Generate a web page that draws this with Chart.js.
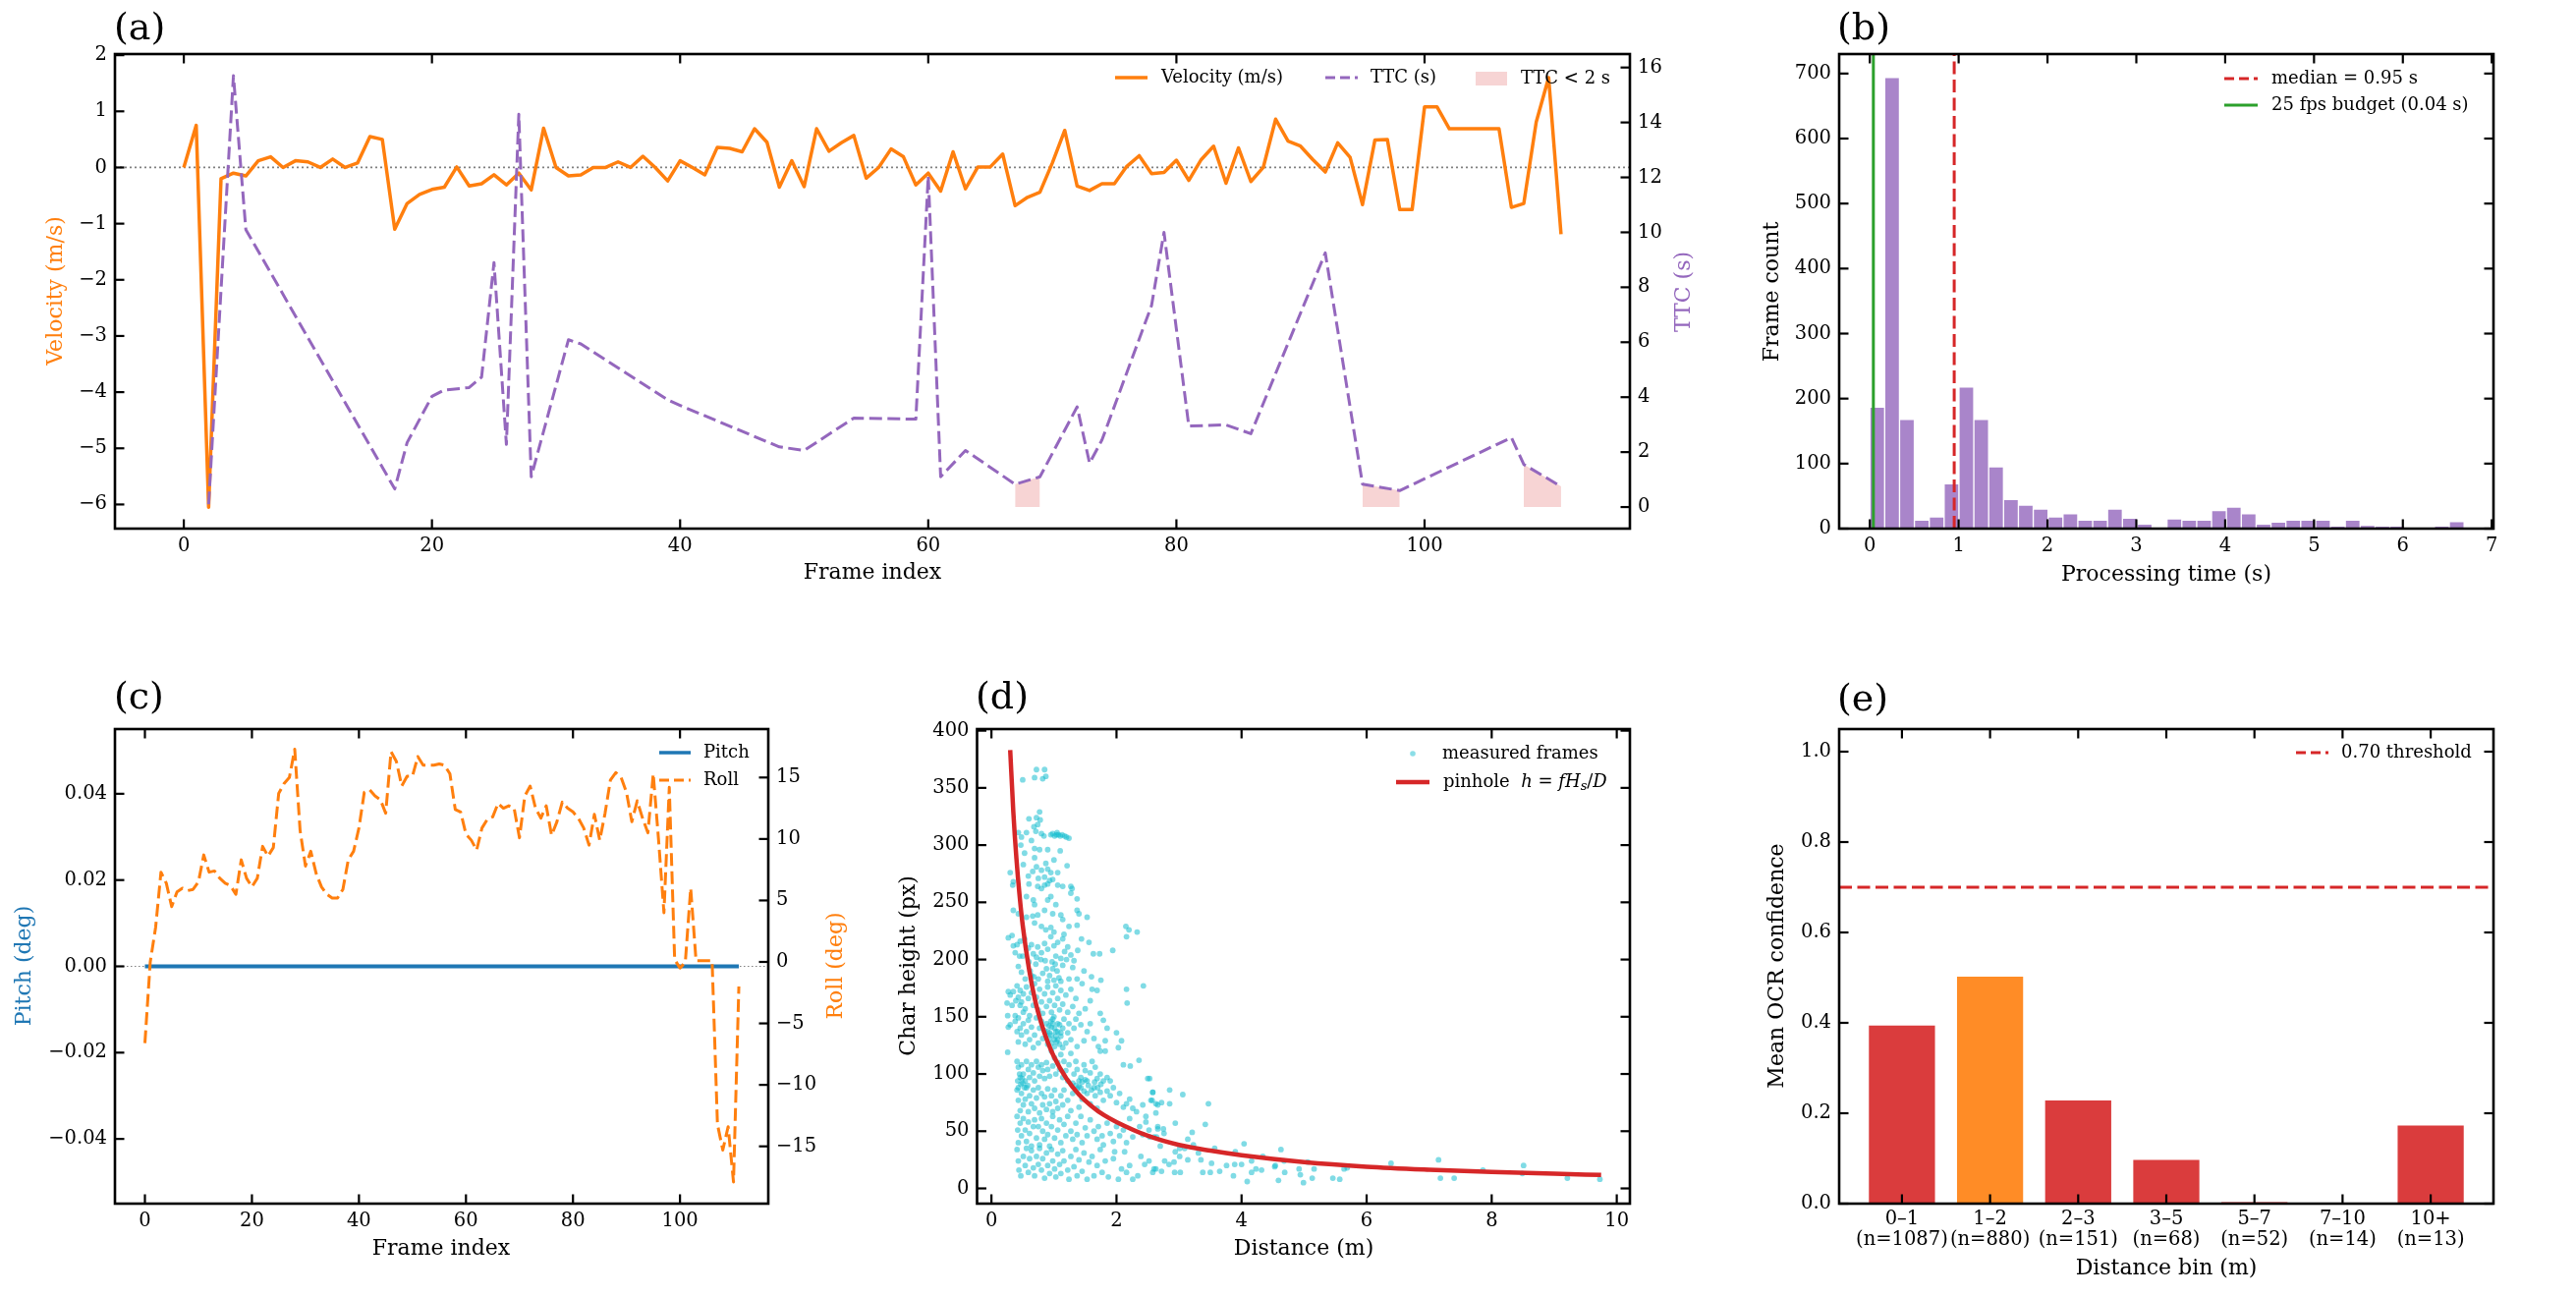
<!DOCTYPE html>
<html><head><meta charset="utf-8">
<script src="https://cdn.jsdelivr.net/npm/chart.js@4.4.1/dist/chart.umd.min.js"></script>
<style>
html,body{margin:0;padding:0;background:#fff;}
body{width:2622px;height:1319px;position:relative;overflow:hidden;}
canvas{position:absolute;}
</style></head><body>
<canvas id="ca" width="1760" height="620" style="left:0px;top:0px"></canvas>
<canvas id="cb" width="862" height="620" style="left:1760px;top:0px"></canvas>
<canvas id="cc" width="900" height="659" style="left:0px;top:660px"></canvas>
<canvas id="cd" width="860" height="659" style="left:900px;top:660px"></canvas>
<canvas id="ce" width="862" height="659" style="left:1760px;top:660px"></canvas>
<script>
// ---------------- DATA ----------------
// (a) velocity per frame (m/s), frames 0..111
const velocity = [0, 0.75, -6.05, -0.2, -0.1, -0.15, 0.12, 0.19, 0.0, 0.12, 0.1, 0.0, 0.15, 0.0, 0.08, 0.55, 0.5, -1.1, -0.64, -0.48,
  -0.39, -0.35, 0.01, -0.33, -0.29, -0.13, -0.31, -0.1, -0.4, 0.7, 0.0, -0.15, -0.13, 0.0, 0.0, 0.1, 0.0, 0.2, 0.0, -0.24,
  0.12, 0.0, -0.13, 0.36, 0.34, 0.28, 0.69, 0.45, -0.35, 0.12, -0.34, 0.69, 0.29, 0.44, 0.57, -0.19, 0.0, 0.33, 0.19, -0.31,
  -0.1, -0.42, 0.28, -0.38, 0.01, 0.01, 0.24, -0.68, -0.53, -0.44, 0.08, 0.66, -0.33, -0.41, -0.29, -0.29, 0.02, 0.21, -0.11, -0.09,
  0.13, -0.23, 0.14, 0.38, -0.28, 0.35, -0.25, 0.0, 0.86, 0.47, 0.38, 0.14, -0.08, 0.44, 0.18, -0.66, 0.49, 0.5, -0.75, -0.75,
  1.08, 1.08, 0.69, 0.69, 0.69, 0.69, 0.69, -0.71, -0.64, 0.81, 1.6, -1.19];
// (a) time-to-collision (s): frames where the curve bends, and its values there
const ttcFrames = [2, 4, 5, 17, 18, 20, 21, 23, 24, 25, 26, 27, 28, 31, 32, 39, 40, 48, 50, 54,
  59, 60, 61, 63, 67, 69, 72, 73, 74, 78, 79, 81, 84, 86, 92, 95, 98, 107, 108, 111];
const ttcValues = [0.1, 15.7, 10.1, 0.66, 2.35, 4.03, 4.26, 4.35, 4.73, 8.9, 2.28, 14.3, 1.1, 6.09, 5.94, 3.9, 3.7, 2.19, 2.06, 3.24,
  3.2, 12.05, 1.1, 2.06, 0.83, 1.1, 3.65, 1.6, 2.44, 7.34, 10.0, 2.95, 2.99, 2.67, 9.25, 0.83, 0.6, 2.53, 1.55, 0.75];
const ttcLimit = 2;
// (b) processing-time histogram
const histLo = 0.0, histHi = 6.69;
const histCounts = [187, 694, 168, 13, 18, 69, 218, 168, 95, 45, 36, 30, 18, 23, 13, 13, 30, 16, 7, 0,
  15, 13, 13, 28, 33, 23, 7, 10, 13, 13, 13, 4, 13, 5, 4, 4, 0, 2, 4, 11];
const medianTime = 0.95, budgetTime = 0.04;
// (c) pitch / roll (deg) per frame
const pitch = [0,0,0,0,0,0,0,0,0,0,0,0,0,0,0,0,0,0,0,0,0,0,0,0,0,0,0,0,0,0,0,0,0,0,0,0,0,0,0,0,
  0,0,0,0,0,0,0,0,0,0,0,0,0,0,0,0,0,0,0,0,0,0,0,0,0,0,0,0,0,0,0,0,0,0,0,0,0,0,0,0,
  0,0,0,0,0,0,0,0,0,0,0,0,0,0,0,0,0,0,0,0,0,0,0,0,0,0,0,0,0,0,0,0];
const roll = [-6.6, 0, 2.8, 7.3, 6.4, 4.5, 5.7, 6.0, 5.8, 5.9, 6.5, 8.7, 7.3, 7.4, 6.8, 6.4, 6.2, 5.5, 8.3, 6.8,
  6.1, 6.8, 9.4, 8.6, 9.3, 13.7, 14.5, 15.0, 17.3, 10.7, 7.8, 9.0, 7.2, 6.1, 5.5, 5.2, 5.2, 5.9, 8.3, 9.0,
  10.9, 13.8, 14.0, 13.5, 13.2, 12.1, 17.1, 16.3, 14.3, 15.1, 15.1, 16.7, 16.0, 16.0, 16.0, 16.1, 16.0, 15.3, 12.4, 12.2,
  10.4, 9.9, 9.1, 10.9, 11.6, 11.8, 12.9, 12.5, 12.7, 12.5, 10.1, 13.5, 14.3, 12.5, 11.7, 12.7, 10.3, 11.4, 13.0, 12.5,
  12.2, 11.7, 10.9, 9.5, 12.0, 9.9, 12.1, 14.8, 15.4, 15.0, 13.8, 11.4, 13.1, 11.7, 10.5, 15.3, 9.9, 4.0, 14.2, 0.2,
  -0.5, 0.0, 6.0, 0.1, 0.1, 0.1, 0.1, -13.2, -15.3, -13.4, -17.9, -2.0];
// (d) measured frames: [distance (m), char height (px)]
const measuredFrames = [
 [0.50,357],[0.69,359],[0.72,366],[0.82,358],[0.85,366],[0.87,360],
 [0.77,329],[0.60,323],[0.72,324],[0.78,322],[0.68,316],[0.74,318],[0.43,311],[0.56,311],[0.48,307],[0.64,304],[0.71,312],[0.80,310],[0.84,308],[0.95,309],
 [0.98,310],[1.01,308],[1.04,309],[1.07,309],[1.10,308],[1.13,309],[1.17,308],[1.20,307],[1.24,306],[1.05,311],[0.47,300],[0.53,293],[0.69,297],[0.77,296],[0.90,296],[1.10,295],
 [0.51,283],[0.69,289],[0.72,281],[0.87,284],[0.90,279],[1.00,287],[1.21,282],[0.80,278],[0.95,276],[1.06,276],[0.30,276],[0.34,265],[0.35,268],[0.59,273],[0.66,277],[0.75,271],[0.85,272],[0.98,270],
 [0.60,266],[0.74,264],[0.80,262],[0.85,265],[0.90,266],[0.93,269],[1.06,265],[1.14,264],[1.27,264],[1.29,262],[1.27,258],[1.37,253],[0.56,255],[0.67,252],[0.69,248],[0.90,252],[0.95,255],[1.03,248],
 [0.35,243],[0.43,240],[0.56,237],[0.66,238],[0.74,239],[0.85,243],[0.98,240],[1.11,239],[1.14,235],[1.37,243],[1.40,240],[1.53,237],
 [0.69,232],[0.80,229],[0.87,226],[0.95,228],[1.00,224],[1.16,222],[1.24,229],[1.37,230],[2.15,229],[2.20,226],[2.16,220],[2.33,224],[0.27,219],[0.33,221],[0.35,212],[0.38,206],
 [0.41,213],[0.46,216],[0.53,218],[0.59,210],[0.64,213],[0.67,205],[0.74,211],[0.80,206],[0.85,214],[0.90,209],[0.95,220],[1.00,212],[1.03,203],[1.06,215],[1.11,201],[1.14,218],
 [1.17,207],[1.22,211],[1.27,204],[1.32,199],[1.38,208],[1.44,218],[1.56,215],[1.63,205],[1.73,205],[1.94,208],
 [0.43,194],[0.48,189],[0.54,183],[0.64,186],[0.75,183],[0.90,181],[1.11,181],[1.24,183],[1.37,183],[0.60,198],[0.71,196],[0.79,200],[0.88,192],[0.97,198],[1.05,190],[1.14,195],
 [1.20,200],[1.30,193],[1.48,190],[1.60,185],[1.75,182],[0.50,203],[0.45,203],[0.62,190],[0.68,185],[0.82,188],[0.93,186],[1.00,182],[1.08,184],[0.72,202],[0.86,199],[0.98,192],[1.02,196],
 [0.27,172],[0.25,162],[0.26,151],[0.30,169],[0.35,172],[0.41,177],[0.43,167],[0.46,173],[0.48,163],[0.51,170],[0.54,157],[0.56,176],[0.59,166],[0.61,151],[0.64,171],[0.67,160],
 [0.69,179],[0.72,167],[0.75,156],[0.77,174],[0.80,163],[0.82,153],[0.85,170],[0.88,159],[0.90,176],[0.93,164],[0.96,154],[0.98,171],[1.01,160],[1.03,177],[1.06,166],[1.09,156],
 [1.11,173],[1.14,161],[1.19,169],[1.22,154],[1.27,174],[1.30,159],[1.35,166],[1.40,153],[1.45,179],[1.50,157],[1.58,164],[1.61,174],[1.69,173],[1.74,153],[2.16,174],[2.43,177],
 [2.17,162],[0.38,151],[0.33,160],[0.39,164],[0.51,154],[0.46,160],
 [0.27,141],[0.30,143],[0.26,119],[0.38,146],[0.41,137],[0.43,149],[0.43,128],[0.46,140],[0.48,134],[0.51,144],[0.54,126],[0.56,137],[0.59,147],[0.61,130],[0.64,141],[0.67,123],
 [0.69,134],[0.72,149],[0.75,127],[0.77,140],[0.80,146],[0.82,131],[0.85,138],[0.88,144],[0.90,126],[0.93,136],[0.96,141],[0.98,148],[1.01,130],[1.03,137],[1.06,144],[1.09,126],
 [1.11,133],[1.14,140],[1.16,148],[1.19,127],[1.22,136],[1.24,144],[1.27,130],[1.32,140],[1.35,148],[1.37,124],[1.43,143],[1.48,129],[1.53,137],[1.58,144],[1.64,131],[1.71,124],
 [1.79,147],[1.85,140],[1.82,129],[2.00,136],[2.08,129],[2.03,123],[1.74,120],[1.82,120],
 [0.90,137],[0.96,134],[1.01,140],[1.03,133],[1.06,137],[1.09,143],[0.98,144],[0.93,131],[1.11,136],[1.06,130],[1.01,124],[1.14,123],[0.96,127],[0.88,134],[0.95,146],[1.00,150],[1.04,128],[0.92,142],
 [0.41,111],[0.43,106],[0.46,97],[0.48,108],[0.51,100],[0.54,94],[0.56,111],[0.59,104],[0.61,97],[0.64,108],[0.67,101],[0.69,94],[0.72,111],[0.75,106],[0.77,98],[0.80,108],
 [0.82,103],[0.85,96],[0.88,110],[0.90,104],[0.93,98],[0.96,120],[0.98,107],[1.01,114],[1.03,100],[1.06,110],[1.09,104],[1.11,117],[1.14,97],[1.16,111],[1.19,103],[1.22,94],
 [1.24,108],[1.27,118],[1.32,100],[1.35,111],[1.37,104],[1.40,94],[1.43,97],[1.48,108],[1.50,103],[1.53,94],[1.58,101],[1.61,111],[1.66,106],[1.69,96],[1.74,100],[1.79,94],
 [1.85,97],[1.90,94],[2.11,108],[2.22,107],[2.36,112],[2.50,96],[2.58,84],
 [0.42,94],[0.47,91],[0.49,96],[0.53,88],[0.43,88],[0.45,100],[0.50,92],[0.58,90],
 [0.41,86],[0.43,77],[0.46,68],[0.48,83],[0.51,73],[0.54,78],[0.56,88],[0.59,67],[0.61,81],[0.64,74],[0.67,86],[0.69,70],[0.72,79],[0.75,88],[0.77,66],[0.80,83],
 [0.82,73],[0.85,80],[0.88,69],[0.90,87],[0.93,74],[0.96,81],[0.98,67],[1.01,86],[1.03,76],[1.06,70],[1.11,81],[1.14,73],[1.16,86],[1.22,77],[1.27,68],[1.30,83],
 [1.35,90],[1.37,87],[1.40,71],[1.43,88],[1.45,78],[1.48,85],[1.53,83],[1.58,74],[1.64,88],[1.66,81],[1.69,70],[1.74,84],[1.79,77],[1.85,85],[1.90,81],[1.95,88],
 [2.00,75],[2.05,83],[2.11,71],[2.16,74],[2.21,78],[2.26,70],[2.32,67],[2.42,73],[2.55,77],[2.63,74],[2.47,63],
 [1.30,92],[1.40,89],[1.45,93],[1.55,90],[1.60,86],[1.70,88],[1.75,91],[1.50,95],[1.65,93],
 [0.41,63],[0.42,51],[0.43,40],[0.46,57],[0.48,46],[0.51,61],[0.54,51],[0.56,41],[0.59,58],[0.61,48],[0.64,37],[0.67,54],[0.69,60],[0.72,44],[0.75,54],[0.77,38],
 [0.80,61],[0.82,50],[0.85,43],[0.88,57],[0.90,47],[0.93,37],[0.96,54],[0.98,63],[1.01,44],[1.06,51],[1.09,60],[1.11,40],[1.16,56],[1.19,46],[1.22,63],[1.27,50],
 [1.30,43],[1.35,57],[1.37,47],[1.43,63],[1.45,40],[1.50,53],[1.53,46],[1.58,60],[1.64,50],[1.69,43],[1.71,54],[1.77,46],[1.79,38],[1.85,57],[1.90,48],[1.95,41],
 [2.00,54],[2.05,46],[2.11,51],[2.16,40],[2.21,61],[2.26,45],[2.37,54],[2.42,47],[2.47,58],[2.52,51],[2.60,45],[2.66,54],
 [0.41,34],[0.43,24],[0.44,16],[0.47,11],[0.51,28],[0.54,20],[0.56,35],[0.59,14],[0.61,26],[0.64,33],[0.67,18],[0.69,11],[0.72,28],[0.75,21],[0.77,35],[0.80,16],
 [0.82,26],[0.85,9],[0.88,31],[0.90,20],[0.93,13],[0.96,34],[0.98,24],[1.01,17],[1.03,10],[1.06,30],[1.09,21],[1.11,13],[1.14,33],[1.16,24],[1.22,16],[1.24,8],
 [1.27,28],[1.32,19],[1.35,34],[1.37,11],[1.40,25],[1.45,15],[1.48,31],[1.53,8],[1.56,23],[1.61,28],[1.64,11],[1.69,20],[1.74,34],[1.77,14],[1.82,24],[1.87,10],
 [1.95,26],[1.97,32],[2.03,8],[2.08,17],[2.13,32],[2.16,14],[2.21,20],[2.26,8],[2.34,11],[2.39,28],[2.45,21],[2.52,24],[2.58,14],[2.63,17],
 [2.53,96],[2.58,84],[2.57,77],[2.66,73],[2.72,75],[2.85,86],[2.85,74],[3.06,82],[3.47,74],[2.63,66],[2.94,57],[3.42,56],[2.66,52],[2.75,52],[2.76,48],[3.21,49],
 [3.14,43],[2.70,37],[2.94,32],[3.01,35],[3.09,35],[3.23,38],[3.31,31],[3.57,35],[3.90,32],[4.04,39],[4.63,34],[2.77,24],[2.84,21],[2.92,23],[3.01,28],[3.14,25],
 [3.35,25],[3.52,22],[3.76,20],[3.89,21],[4.00,21],[4.16,24],[4.34,28],[4.54,20],[4.68,24],[4.92,17],[5.06,23],[5.16,17],[2.60,17],[2.72,15],[2.93,14],[3.02,14],
 [3.38,14],[3.50,14],[3.65,15],[3.87,11],[4.09,6],[4.16,14],[4.23,17],[4.32,16],[4.53,19],[4.59,7],[4.69,14],[4.94,12],[4.99,5],[5.13,9],[5.46,9],[5.57,8],
 [5.64,17],[5.69,18],[6.39,22],[7.15,25],[7.18,9],[7.40,9],[7.86,16],[8.51,20],[8.49,13],[9.21,9],[9.73,8],[2.53,45],[2.64,45]
];
// (d) pinhole model curve
const pinholeD = [0.3, 0.35, 0.4, 0.45, 0.5, 0.6, 0.7, 0.8, 0.9, 1.0, 1.2, 1.4, 1.6, 1.8, 2.0, 2.5, 3.0, 3.5, 4.0, 5.0, 6.0, 7.0, 8.0, 9.0, 9.75];
const pinholeH = [383, 329, 288, 256, 230, 192, 164, 144, 128, 115, 96, 82, 72, 64, 58, 46, 38, 33, 29, 23, 19, 16.4, 14.4, 12.8, 11.8];
// (e) OCR confidence per distance bin
const binLabels = ['0\u20131', '1\u20132', '2\u20133', '3\u20135', '5\u20137', '7\u201310', '10+'];
const binN = [1087, 880, 151, 68, 52, 14, 13];
const binConf = [0.394, 0.502, 0.228, 0.0965, 0.003, 0.0, 0.1726];
const confThreshold = 0.70;
// tick values
const ticksFrame = [0, 20, 40, 60, 80, 100];
const ticksVel = [-6, -5, -4, -3, -2, -1, 0, 1, 2];
const ticksTTC = [0, 2, 4, 6, 8, 10, 12, 14, 16];
const ticksTime = [0, 1, 2, 3, 4, 5, 6, 7];
const ticksCount = [0, 100, 200, 300, 400, 500, 600, 700];
const ticksPitch = [-0.04, -0.02, 0, 0.02, 0.04];
const ticksRoll = [-15, -10, -5, 0, 5, 10, 15];
const ticksDist = [0, 2, 4, 6, 8, 10];
const ticksHeight = [0, 50, 100, 150, 200, 250, 300, 350, 400];
const ticksConf = [0, 0.2, 0.4, 0.6, 0.8, 1.0];
const ticksBin = [0, 1, 2, 3, 4, 5, 6];

// ---------------- STYLE ----------------
const C = {orange:'#ff7f0e', purple:'#9467bd', blue:'#1f77b4', red:'#d62728', green:'#2ca02c', cyan:'#17becf'};
const FAM = 'DejaVu Serif';
const MINUS = '\u2212';
const DASH = [13, 5.5];
function num(v, d) { const s = Math.abs(v).toFixed(d); return (v < 0 && Number(s) !== 0 ? MINUS : '') + s; }

function axis(pos, min, max, tickVals, size, digits, extra) {
  const horiz = pos === 'top' || pos === 'bottom';
  const a = {
    type: 'linear', position: pos, min: min, max: max, offset: false, bounds: 'data',
    grid: {display: false, drawTicks: false}, border: {display: false},
    afterBuildTicks: s => { s.ticks = tickVals.map(v => ({value: v})); },
    afterFit: s => { if (horiz) s.height = size; else s.width = size; },
    ticks: {autoSkip: false, maxRotation: 0, minRotation: 0, padding: 8, color: '#000',
      font: {family: FAM, size: 19.5, lineHeight: 1.06},
      callback: (v) => num(v, digits)}
  };
  if (extra) extra(a);
  return a;
}

const deco = {
  id: 'deco',
  afterDraw(chart, args, o) {
    const ctx = chart.ctx, ca = chart.chartArea;
    ctx.save();
    ctx.strokeStyle = '#000'; ctx.lineWidth = 2.2; ctx.setLineDash([]);
    const L = 9.5;
    for (const [side, id] of (o.ticks || [])) {
      const s = chart.scales[id];
      for (const tk of s.ticks) {
        const p = s.getPixelForValue(tk.value);
        ctx.beginPath();
        if (side === 'bottom') { ctx.moveTo(p, ca.bottom); ctx.lineTo(p, ca.bottom - L); }
        else if (side === 'top') { ctx.moveTo(p, ca.top); ctx.lineTo(p, ca.top + L); }
        else if (side === 'left') { ctx.moveTo(ca.left, p); ctx.lineTo(ca.left + L, p); }
        else { ctx.moveTo(ca.right, p); ctx.lineTo(ca.right - L, p); }
        ctx.stroke();
      }
    }
    ctx.lineWidth = 2.6;
    ctx.strokeRect(ca.left, ca.top, ca.right - ca.left, ca.bottom - ca.top);
    ctx.translate(-o.ox, -o.oy);
    for (const t of (o.texts || [])) {
      ctx.save();
      ctx.font = (t.size || 22) + 'px "' + FAM + '"';
      ctx.fillStyle = t.color || '#000';
      ctx.textAlign = t.align || 'center'; ctx.textBaseline = 'middle';
      ctx.translate(t.x, t.y); if (t.rot) ctx.rotate(t.rot * Math.PI / 180);
      ctx.fillText(t.t, 0, 0);
      ctx.restore();
    }
    for (const it of (o.legend || [])) {
      ctx.save();
      if (it.kind === 'line') {
        ctx.strokeStyle = it.color; ctx.lineWidth = it.lw; ctx.setLineDash(it.dash || []);
        ctx.beginPath(); ctx.moveTo(it.x1, it.y); ctx.lineTo(it.x2, it.y); ctx.stroke();
      } else if (it.kind === 'box') {
        ctx.fillStyle = it.color; ctx.fillRect(it.x1, it.y - 7, it.x2 - it.x1, 14);
      } else if (it.kind === 'dot') {
        ctx.fillStyle = it.color; ctx.beginPath(); ctx.arc((it.x1 + it.x2) / 2, it.y, 2.8, 0, Math.PI * 2); ctx.fill();
      }
      ctx.setLineDash([]);
      ctx.fillStyle = '#000'; ctx.textAlign = 'left'; ctx.textBaseline = 'middle';
      const pieces = Array.isArray(it.text) ? it.text : [{t: it.text}];
      let x = it.tx;
      for (const p of pieces) {
        const sz = p.sub ? 13 : 18;
        ctx.font = (p.it ? 'italic ' : '') + sz + 'px "' + FAM + '"';
        ctx.fillText(p.t, x, it.y + (p.sub ? 5 : 0));
        x += ctx.measureText(p.t).width;
      }
      ctx.restore();
    }
    ctx.restore();
  }
};
Chart.register(deco);

const base = (pad, ox, oy, decoOpts) => ({
  responsive: false, animation: false, devicePixelRatio: 1,
  layout: {padding: pad},
  plugins: {legend: {display: false}, tooltip: {enabled: false}, deco: Object.assign({ox: ox, oy: oy}, decoOpts)},
  elements: {point: {radius: 0}, line: {tension: 0, borderJoinStyle: 'round'}}
});

// ---------------- (a) ----------------
{
  const frames = velocity.map((_, i) => i);
  const ttcPts = ttcFrames.map((f, i) => ({x: f, y: ttcValues[i]}));
  const fillPts = [];
  ttcFrames.forEach((f, i) => {
    if (ttcValues[i] < ttcLimit) fillPts.push({x: f, y: ttcValues[i]});
    else if (fillPts.length && fillPts[fillPts.length - 1].y !== null) fillPts.push({x: f, y: null});
  });
  const xMin = -5.55, xMax = 116.55;
  const opts = base({top: 55, left: 0, right: 0, bottom: 0}, 0, 0, {
    ticks: [['bottom', 'x'], ['top', 'x'], ['left', 'y'], ['right', 'y2']],
    texts: [
      {t: '(a)', x: 116, y: 30, size: 38, align: 'left'},
      {t: 'Velocity (m/s)', x: 57, y: 296, rot: -90, color: C.orange},
      {t: 'TTC (s)', x: 1714, y: 297, rot: -90, color: C.purple},
      {t: 'Frame index', x: 888, y: 583}
    ],
    legend: [
      {kind: 'line', color: C.orange, lw: 3.5, x1: 1135, x2: 1168, y: 79, tx: 1182, text: 'Velocity (m/s)'},
      {kind: 'line', color: C.purple, lw: 3, dash: [10, 5], x1: 1349, x2: 1382, y: 79, tx: 1395, text: 'TTC (s)'},
      {kind: 'box', color: 'rgba(214,39,40,0.2)', x1: 1502, x2: 1534, y: 80, tx: 1548, text: 'TTC < 2 s'}
    ]
  });
  opts.scales = {
    x: axis('bottom', xMin, xMax, ticksFrame, 82, 0),
    y: axis('left', -6.43, 2.02, ticksVel, 117, 0),
    y2: axis('right', -0.785, 16.49, ticksTTC, 101, 0)
  };
  new Chart(document.getElementById('ca'), {
    type: 'line',
    data: {datasets: [
      {data: ttcPts, yAxisID: 'y2', borderColor: C.purple, borderWidth: 3, borderDash: DASH, order: 0},
      {data: fillPts, yAxisID: 'y2', borderWidth: 0, borderColor: 'rgba(0,0,0,0)', backgroundColor: 'rgba(214,39,40,0.2)', fill: 'origin', spanGaps: false, order: 1},
      {data: frames.map(i => ({x: i, y: velocity[i]})), yAxisID: 'y', borderColor: C.orange, borderWidth: 3.5, order: 2},
      {data: [{x: xMin, y: 0}, {x: xMax, y: 0}], yAxisID: 'y', borderColor: '#808080', borderWidth: 1.8, borderDash: [2, 3], order: 3}
    ]},
    options: opts
  });
}

// ---------------- (b) ----------------
{
  const w = (histHi - histLo) / histCounts.length;
  const bars = histCounts.map((c, i) => ({x: histLo + (i + 0.5) * w, y: c}));
  const yMax = 730;
  const opts = base({top: 55, left: 0, right: 84, bottom: 0}, 1760, 0, {
    ticks: [['bottom', 'x'], ['top', 'x'], ['left', 'y'], ['right', 'y']],
    texts: [
      {t: '(b)', x: 1870, y: 30, size: 38, align: 'left'},
      {t: 'Frame count', x: 1804, y: 297, rot: -90},
      {t: 'Processing time (s)', x: 2205, y: 585}
    ],
    legend: [
      {kind: 'line', color: C.red, lw: 3, dash: [10, 5], x1: 2264, x2: 2298, y: 80, tx: 2312, text: 'median = 0.95 s'},
      {kind: 'line', color: C.green, lw: 3, x1: 2264, x2: 2298, y: 107, tx: 2312, text: '25 fps budget (0.04 s)'}
    ]
  });
  opts.scales = {
    x: axis('bottom', -0.345, 7.02, ticksTime, 82, 0),
    y: axis('left', 0, yMax, ticksCount, 112, 0)
  };
  new Chart(document.getElementById('cb'), {
    type: 'bar',
    data: {datasets: [
      {type: 'line', data: [{x: budgetTime, y: 0}, {x: budgetTime, y: yMax}], borderColor: C.green, borderWidth: 3, order: 0},
      {type: 'line', data: [{x: medianTime, y: 0}, {x: medianTime, y: yMax}], borderColor: C.red, borderWidth: 3, borderDash: DASH, order: 0},
      {type: 'bar', data: bars, backgroundColor: 'rgba(148,103,189,0.8)', borderColor: '#ffffff', borderWidth: 1,
        barPercentage: 1, categoryPercentage: 1, order: 1}
    ]},
    options: opts
  });
}

// ---------------- (c) ----------------
{
  const frames = roll.map((_, i) => i);
  const xMin = -5.6, xMax = 116.5;
  const opts = base({top: 82, left: 0, right: 0, bottom: 0}, 0, 660, {
    ticks: [['bottom', 'x'], ['top', 'x'], ['left', 'y'], ['right', 'y2']],
    texts: [
      {t: '(c)', x: 116, y: 711, size: 38, align: 'left'},
      {t: 'Pitch (deg)', x: 25, y: 983, rot: -90, color: C.blue},
      {t: 'Roll (deg)', x: 851, y: 983, rot: -90, color: C.orange},
      {t: 'Frame index', x: 449, y: 1271}
    ],
    legend: [
      {kind: 'line', color: C.blue, lw: 3.5, x1: 671, x2: 703, y: 766, tx: 716, text: 'Pitch'},
      {kind: 'line', color: C.orange, lw: 3, dash: [10, 5], x1: 671, x2: 703, y: 794, tx: 716, text: 'Roll'}
    ]
  });
  opts.scales = {
    x: axis('bottom', xMin, xMax, ticksFrame, 94, 0),
    y: axis('left', -0.055, 0.055, ticksPitch, 117, 2),
    y2: axis('right', -19.66, 18.94, ticksRoll, 118, 0)
  };
  new Chart(document.getElementById('cc'), {
    type: 'line',
    data: {datasets: [
      {data: frames.map(i => ({x: i, y: roll[i]})), yAxisID: 'y2', borderColor: C.orange, borderWidth: 3, borderDash: DASH, order: 0},
      {data: frames.map(i => ({x: i, y: pitch[i]})), yAxisID: 'y', borderColor: C.blue, borderWidth: 3.8, order: 1},
      {data: [{x: xMin, y: 0}, {x: xMax, y: 0}], yAxisID: 'y', borderColor: '#808080', borderWidth: 1.2, borderDash: [1.5, 2.5], order: 2}
    ]},
    options: opts
  });
}

// ---------------- (d) ----------------
{
  const opts = base({top: 82, left: 0, right: 101, bottom: 0}, 900, 660, {
    ticks: [['bottom', 'x'], ['top', 'x'], ['left', 'y'], ['right', 'y']],
    texts: [
      {t: '(d)', x: 993, y: 711, size: 38, align: 'left'},
      {t: 'Char height (px)', x: 925, y: 983, rot: -90},
      {t: 'Distance (m)', x: 1327, y: 1271}
    ],
    legend: [
      {kind: 'dot', color: 'rgba(23,190,207,0.5)', x1: 1433, x2: 1443, y: 767, tx: 1468, text: 'measured frames'},
      {kind: 'line', color: C.red, lw: 4.5, x1: 1421, x2: 1455, y: 796, tx: 1469,
        text: [{t: 'pinhole  '}, {t: 'h', it: true}, {t: ' = '}, {t: 'f', it: true}, {t: 'H', it: true}, {t: 's', it: true, sub: true}, {t: '/'}, {t: 'D', it: true}]}
    ]
  });
  opts.scales = {
    x: axis('bottom', -0.23, 10.21, ticksDist, 94, 0),
    y: axis('left', -13.3, 401.4, ticksHeight, 94.5, 0)
  };
  new Chart(document.getElementById('cd'), {
    type: 'scatter',
    data: {datasets: [
      {type: 'line', data: pinholeD.map((d, i) => ({x: d, y: pinholeH[i]})), borderColor: C.red, borderWidth: 4.5,
        cubicInterpolationMode: 'monotone', pointRadius: 0, order: 0},
      {type: 'scatter', data: measuredFrames.map(p => ({x: p[0], y: p[1]})), pointRadius: 2.9, pointBorderWidth: 0,
        backgroundColor: 'rgba(23,190,207,0.55)', borderColor: 'rgba(0,0,0,0)', order: 1}
    ]},
    options: opts
  });
}

// ---------------- (e) ----------------
{
  const barColors = binConf.map((v, i) => i === 1 ? 'rgba(255,127,14,0.9)' : 'rgba(214,39,40,0.9)');
  const xMin = -0.7125, xMax = 6.7125;
  const opts = base({top: 82, left: 0, right: 84, bottom: 0}, 1760, 660, {
    ticks: [['bottom', 'x'], ['top', 'x'], ['left', 'y'], ['right', 'y']],
    texts: [
      {t: '(e)', x: 1870, y: 713, size: 38, align: 'left'},
      {t: 'Mean OCR confidence', x: 1809, y: 983, rot: -90},
      {t: 'Distance bin (m)', x: 2205, y: 1291}
    ],
    legend: [
      {kind: 'line', color: C.red, lw: 3, dash: [10, 5], x1: 2337, x2: 2370, y: 766, tx: 2383, text: '0.70 threshold'}
    ]
  });
  opts.scales = {
    x: axis('bottom', xMin, xMax, ticksBin, 94, 0, a => {
      a.ticks.padding = 6;
      a.ticks.callback = v => { const i = Math.round(v); return [binLabels[i], '(n=' + binN[i] + ')']; };
    }),
    y: axis('left', 0, 1.05, ticksConf, 112, 1)
  };
  new Chart(document.getElementById('ce'), {
    type: 'bar',
    data: {datasets: [
      {type: 'line', data: [{x: xMin, y: confThreshold}, {x: xMax, y: confThreshold}], borderColor: C.red, borderWidth: 3, borderDash: DASH, order: 0},
      {type: 'bar', data: binConf.map((v, i) => ({x: i, y: v})), backgroundColor: barColors, borderWidth: 0,
        barPercentage: 0.75, categoryPercentage: 1, order: 1}
    ]},
    options: opts
  });
}
</script>
</body></html>
